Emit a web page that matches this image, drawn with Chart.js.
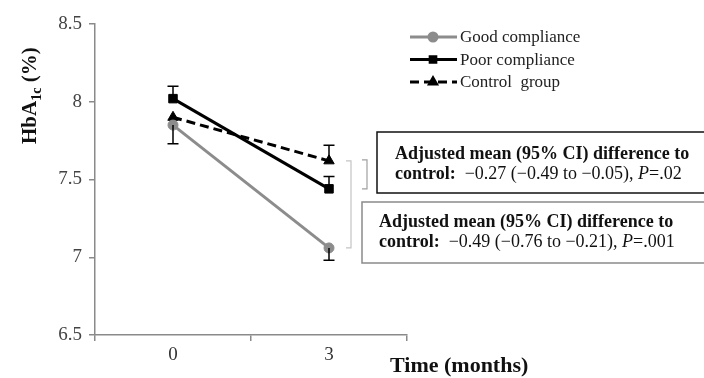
<!DOCTYPE html>
<html>
<head>
<meta charset="utf-8">
<script src="https://cdn.jsdelivr.net/npm/chart.js@4"></script>
<style>
  body { margin: 0; background: #fff; }
  canvas { display: block; }
</style>
</head>
<body>
<canvas id="myChart" width="704" height="378"></canvas>
<script>
// data
var months = ['0', '3'];
var goodCompliance = [7.85, 7.06];
var poorCompliance = [8.02, 7.44];
var controlGroup = [7.90, 7.62];
// error bar ends (only the ones drawn in the figure)
var goodLower = [7.73, 6.98];
var poorUpper = [8.10, 7.52];
var controlUpper = [null, 7.72];
var seriesNames = ['Good compliance', 'Poor compliance', 'Control  group'];
var yTicks = [6.5, 7, 7.5, 8, 8.5];

var serif = "'Liberation Serif', 'Times New Roman', serif";
var axisGray = '#8a8a8a';

var extras = {
    id: 'extras',
    afterDatasetsDraw: function(chart) {
        var ctx = chart.ctx;
        var x = chart.scales.x;
        var y = chart.scales.y;

        // error bars
        ctx.save();
        ctx.strokeStyle = '#000';
        ctx.lineWidth = 1.5;
        function errBar(i, v1, v2) {
            if (v2 == null) return;
            var px = x.getPixelForValue(i);
            var y1 = y.getPixelForValue(v1);
            var y2 = y.getPixelForValue(v2);
            ctx.beginPath();
            ctx.moveTo(px, y1); ctx.lineTo(px, y2);
            ctx.moveTo(px - 5.5, y2); ctx.lineTo(px + 5.5, y2);
            ctx.stroke();
        }
        for (var i = 0; i < months.length; i++) {
            errBar(i, goodCompliance[i], goodLower[i]);
            errBar(i, poorCompliance[i], poorUpper[i]);
            errBar(i, controlGroup[i], controlUpper[i]);
        }
        ctx.restore();

        // legend
        ctx.save();
        var ds = chart.data.datasets;
        for (var k = 0; k < ds.length; k++) {
            var ly = 37 + k * 22.5;
            ctx.strokeStyle = ds[k].borderColor;
            ctx.fillStyle = ds[k].backgroundColor;
            ctx.lineWidth = 3;
            ctx.setLineDash(ds[k].borderDash || []);
            ctx.beginPath();
            ctx.moveTo(410, ly); ctx.lineTo(457, ly);
            ctx.stroke();
            ctx.setLineDash([]);
            Chart.helpers.drawPoint(ctx, {pointStyle: ds[k].pointStyle, radius: 4, borderWidth: 1}, 433, ly);
            ctx.fill();
            ctx.fillStyle = '#222';
            ctx.font = '17px ' + serif;
            ctx.textBaseline = 'middle';
            ctx.fillText(seriesNames[k], 460, ly + 1);
        }
        ctx.restore();

        // brackets
        ctx.save();
        ctx.strokeStyle = '#a0a0a0';
        ctx.lineWidth = 1.2;
        var top = y.getPixelForValue(controlGroup[1]);
        var b1 = y.getPixelForValue(poorCompliance[1]);
        var b2 = y.getPixelForValue(goodCompliance[1]);
        ctx.beginPath();
        ctx.moveTo(362, top - 1); ctx.lineTo(367, top - 1); ctx.lineTo(367, b1); ctx.lineTo(362, b1);
        ctx.stroke();
        ctx.strokeStyle = '#c4c4c4';
        ctx.beginPath();
        ctx.moveTo(346, top); ctx.lineTo(351, top); ctx.lineTo(351, b2); ctx.lineTo(346, b2);
        ctx.stroke();
        ctx.restore();

        // annotation boxes
        ctx.save();
        ctx.lineWidth = 1.5;
        ctx.strokeStyle = '#111';
        ctx.strokeRect(377, 132, 340, 61);
        ctx.strokeStyle = '#8a8a8a';
        ctx.strokeRect(362, 202, 360, 61);
        function note(x0, y0, est) {
            ctx.fillStyle = '#111';
            ctx.textBaseline = 'alphabetic';
            ctx.font = 'bold 18px ' + serif;
            ctx.fillText('Adjusted mean (95% CI) difference to', x0, y0);
            var y1 = y0 + 20;
            var cx = x0;
            ctx.fillText('control:', cx, y1);
            cx += ctx.measureText('control:').width;
            ctx.font = '18px ' + serif;
            var t = '  ' + est[0] + ', ';
            ctx.fillText(t, cx, y1);
            cx += ctx.measureText(t).width;
            ctx.font = 'italic 18px ' + serif;
            ctx.fillText('P', cx, y1);
            cx += ctx.measureText('P').width;
            ctx.font = '18px ' + serif;
            ctx.fillText(est[1], cx, y1);
        }
        note(395, 159, ['\u22120.27 (\u22120.49 to \u22120.05)', '=.02']);
        note(379, 227, ['\u22120.49 (\u22120.76 to \u22120.21)', '=.001']);
        ctx.restore();

        // axis titles
        ctx.save();
        ctx.fillStyle = '#111';
        ctx.font = 'bold 22px ' + serif;
        ctx.textBaseline = 'alphabetic';
        ctx.fillText('Time (months)', 390, 372);
        ctx.translate(36, 144);
        ctx.rotate(-Math.PI / 2);
        ctx.font = 'bold 21px ' + serif;
        ctx.fillText('HbA', 0, 0);
        var w = ctx.measureText('HbA').width;
        ctx.font = 'bold 14px ' + serif;
        ctx.fillText('1c', w, 5);
        w += ctx.measureText('1c').width;
        ctx.font = 'bold 21px ' + serif;
        ctx.fillText(' (%)', w, 0);
        ctx.restore();
    }
};

const ctx = document.getElementById('myChart').getContext('2d');
const myChart = new Chart(ctx, {
    type: 'line',
    data: {
        labels: months,
        datasets: [{
            label: seriesNames[0],
            data: goodCompliance,
            borderColor: '#8c8c8c',
            backgroundColor: '#8c8c8c',
            borderWidth: 3,
            pointStyle: 'circle',
            pointRadius: 5,
            pointBorderWidth: 1
        }, {
            label: seriesNames[1],
            data: poorCompliance,
            borderColor: '#000',
            backgroundColor: '#000',
            borderWidth: 3,
            pointStyle: 'rect',
            pointRadius: 6,
            pointBorderWidth: 1
        }, {
            label: seriesNames[2],
            data: controlGroup,
            borderColor: '#000',
            backgroundColor: '#000',
            borderWidth: 3,
            borderDash: [9, 5],
            pointStyle: 'triangle',
            pointRadius: 6,
            pointBorderWidth: 1
        }]
    },
    options: {
        responsive: false,
        animation: false,
        layout: { padding: { left: 45, right: 297, top: 24, bottom: 13 } },
        plugins: { legend: { display: false }, tooltip: { enabled: false } },
        scales: {
            x: {
                offset: true,
                afterFit: function(s) { s.height = 30; },
                grid: { offset: true, drawOnChartArea: false, tickLength: 6, color: axisGray, lineWidth: 1.5 },
                border: { color: axisGray, width: 1.5 },
                ticks: { color: '#333', font: { family: serif, size: 19 }, padding: 3 }
            },
            y: {
                min: 6.5,
                max: 8.5,
                afterFit: function(s) { s.width = 50; },
                afterBuildTicks: function(s) { s.ticks = yTicks.map(function(v) { return {value: v}; }); },
                grid: { drawOnChartArea: false, tickLength: 6, color: axisGray, lineWidth: 1.5 },
                border: { color: axisGray, width: 1.5 },
                ticks: {
                    color: '#444',
                    font: { family: serif, size: 19 },
                    padding: 7,
                    callback: function(v) { return String(v); }
                }
            }
        }
    },
    plugins: [extras]
});
</script>
</body>
</html>
